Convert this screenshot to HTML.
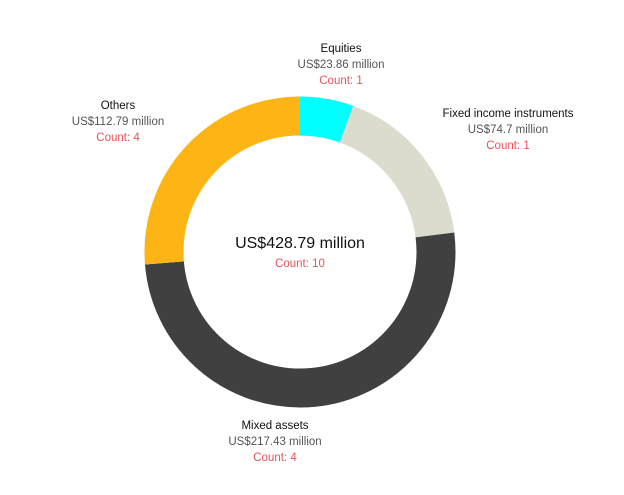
<!DOCTYPE html>
<html><head><style>
body{margin:0;background:#fff;width:624px;height:495px;overflow:hidden;font-family:"Liberation Sans",sans-serif}
.l{position:absolute;text-align:center;font-size:11.5px;line-height:16px;color:#555;transform:translateX(-50%);white-space:nowrap}
.l b{font-weight:normal;color:#111}
.r{color:#e8535b}
</style></head><body>
<svg width="624" height="495" style="position:absolute;left:0;top:0">
<g transform="translate(300,252) rotate(-90)" fill="none" stroke-width="39">
<circle r="136" stroke="#00ffff" stroke-dasharray="47.5 900" stroke-dashoffset="0"/>
<circle r="136" stroke="#dcdcce" stroke-dasharray="148.9 900" stroke-dashoffset="-47.5"/>
<circle r="136" stroke="#404040" stroke-dasharray="433.3 900" stroke-dashoffset="-196.4"/>
<circle r="136" stroke="#fdb515" stroke-dasharray="225.1 900" stroke-dashoffset="-629.7"/>
</g>
</svg>
<div class="l" style="left:300px;top:234px;font-size:16px;line-height:20px;color:#111">US$428.79 million</div>
<div class="l r" style="left:300px;top:256px">Count: 10</div>
<div class="l" style="left:341px;top:41px"><b>Equities</b><br>US$23.86 million<br><span class="r">Count: 1</span></div>
<div class="l" style="left:508px;top:106px"><b>Fixed income instruments</b><br>US$74.7 million<br><span class="r">Count: 1</span></div>
<div class="l" style="left:118px;top:98px"><b>Others</b><br>US$112.79 million<br><span class="r">Count: 4</span></div>
<div class="l" style="left:275px;top:418px"><b>Mixed assets</b><br>US$217.43 million<br><span class="r">Count: 4</span></div>
</body></html>
